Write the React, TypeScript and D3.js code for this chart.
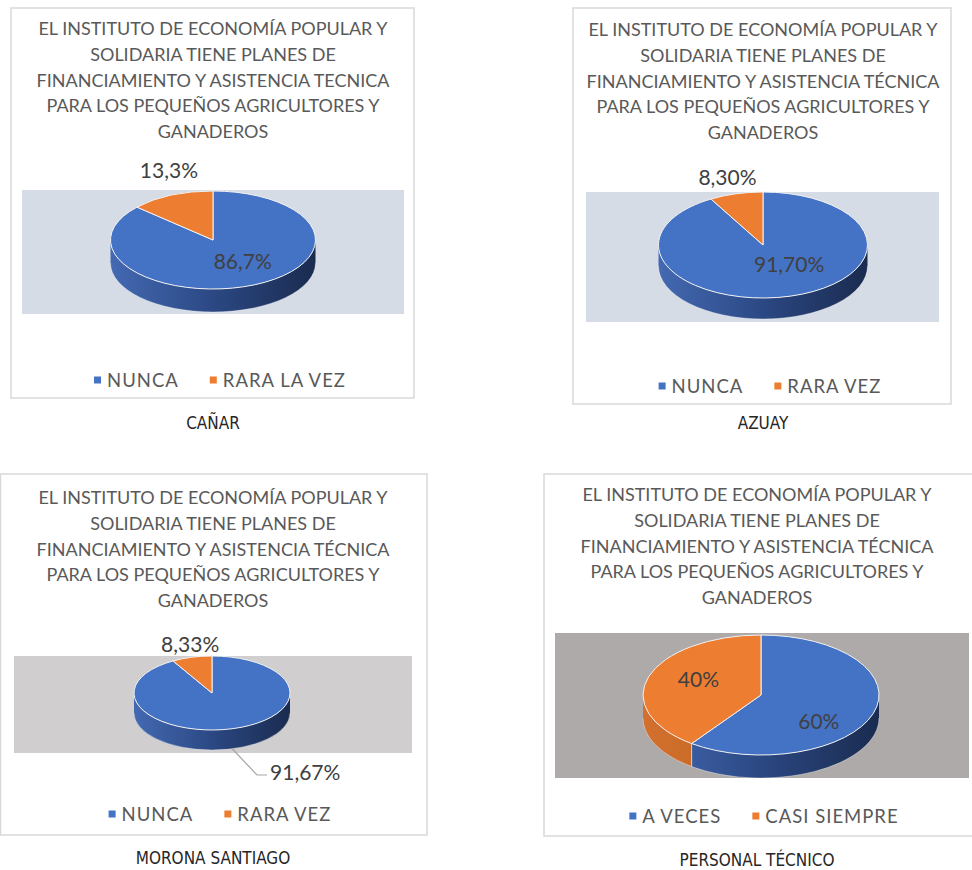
import { useEffect, useRef } from 'react';
import * as d3 from 'd3';

// Chart data
const titleLinesA = [
  'EL INSTITUTO DE ECONOMÍA POPULAR Y',
  'SOLIDARIA TIENE PLANES DE',
  'FINANCIAMIENTO Y ASISTENCIA TECNICA',
  'PARA LOS PEQUEÑOS AGRICULTORES Y',
  'GANADEROS',
];
const titleLinesB = [
  'EL INSTITUTO DE ECONOMÍA POPULAR Y',
  'SOLIDARIA TIENE PLANES DE',
  'FINANCIAMIENTO Y ASISTENCIA TÉCNICA',
  'PARA LOS PEQUEÑOS AGRICULTORES Y',
  'GANADEROS',
];
const captions = ['CAÑAR', 'AZUAY', 'MORONA SANTIAGO', 'PERSONAL TÉCNICO'];

const canarCategories = ['NUNCA', 'RARA LA VEZ'];
const canarValues = [86.7, 13.3];
const canarLabels = ['86,7%', '13,3%'];

const azuayCategories = ['NUNCA', 'RARA VEZ'];
const azuayValues = [91.7, 8.3];
const azuayLabels = ['91,70%', '8,30%'];

const moronaCategories = ['NUNCA', 'RARA VEZ'];
const moronaValues = [91.67, 8.33];
const moronaLabels = ['91,67%', '8,33%'];

const personalCategories = ['A VECES', 'CASI SIEMPRE'];
const personalValues = [60, 40];
const personalLabels = ['60%', '40%'];

const TOP_COLORS = ['#4472c4', '#ed7d31'];
const SIDE_STOPS = [
  ['#4469b2', '#2b4883', '#1a2b4f'],
  ['#d2712f', '#c3641f', '#b05a1c'],
];

interface LabelPos { ux: number; uy: number; anchor?: string; leader?: boolean }
interface Panel {
  categories: string[];
  values: number[];
  labels: string[];
  title: string[];
  caption: string;
  box: [number, number, number, number];
  titleX: number;
  titleY: number;
  plot: [number, number, number, number];
  plotFill: string;
  pie: { cx: number; cy: number; rx: number; ry: number; depth: number };
  labelPos: LabelPos[];
  legendY: number;
  captionY: number;
}

const panels: Panel[] = [
  {
    categories: canarCategories, values: canarValues, labels: canarLabels,
    title: titleLinesA, caption: captions[0],
    box: [11, 8, 403, 390], titleX: 213, titleY: 28,
    plot: [22, 190, 382, 124], plotFill: '#d6dce5',
    pie: { cx: 213, cy: 240, rx: 102.5, ry: 49, depth: 23 },
    labelPos: [{ ux: 0.29, uy: 0.41 }, { ux: -0.43, uy: -1.43 }],
    legendY: 380, captionY: 423,
  },
  {
    categories: azuayCategories, values: azuayValues, labels: azuayLabels,
    title: titleLinesB, caption: captions[1],
    box: [573, 8, 378, 396], titleX: 763, titleY: 29,
    plot: [586, 192, 353, 130], plotFill: '#d6dce5',
    pie: { cx: 763, cy: 245, rx: 104.5, ry: 53, depth: 21 },
    labelPos: [{ ux: 0.25, uy: 0.34 }, { ux: -0.34, uy: -1.3 }],
    legendY: 386, captionY: 423,
  },
  {
    categories: moronaCategories, values: moronaValues, labels: moronaLabels,
    title: titleLinesB, caption: captions[2],
    box: [0.5, 474, 426.5, 361], titleX: 213, titleY: 497,
    plot: [14, 656, 398, 97], plotFill: '#d0cece',
    pie: { cx: 212, cy: 693, rx: 78, ry: 37, depth: 20 },
    labelPos: [{ ux: 0.744, uy: 2.135, anchor: 'start', leader: true }, { ux: -0.28, uy: -1.35 }],
    legendY: 814, captionY: 858,
  },
  {
    categories: personalCategories, values: personalValues, labels: personalLabels,
    title: titleLinesB, caption: captions[3],
    box: [544, 474, 440, 362], titleX: 757, titleY: 494,
    plot: [555, 633, 414, 145], plotFill: '#aeaaaa',
    pie: { cx: 761, cy: 695, rx: 118, ry: 60, depth: 23 },
    labelPos: [{ ux: 0.49, uy: 0.42 }, { ux: -0.53, uy: -0.28 }],
    legendY: 816, captionY: 860,
  },
];

const FONT = 'Lato, "Open Sans", sans-serif';
const NARROW = '"Liberation Sans Narrow", "DejaVu Sans Condensed", sans-serif';

export default function App() {
  const svgRef = useRef<SVGSVGElement>(null);

  useEffect(() => {
    const svg = d3.select(svgRef.current);
    svg.selectAll('*').remove();
    const defs = svg.append('defs');

    panels.forEach((p, pi) => {
      const g = svg.append('g');
      const { cx, cy, rx, ry, depth } = p.pie;

      // chart border
      g.append('rect')
        .attr('x', p.box[0]).attr('y', p.box[1])
        .attr('width', p.box[2]).attr('height', p.box[3])
        .attr('fill', '#fff').attr('stroke', '#d9d9d9').attr('stroke-width', 1.5);

      // title
      g.append('text')
        .attr('text-anchor', 'middle')
        .attr('font-family', FONT).attr('font-size', 18).attr('fill', '#595959')
        .selectAll('tspan').data(p.title).enter().append('tspan')
        .attr('x', p.titleX).attr('y', (_, i) => p.titleY + i * 25.8)
        .attr('dominant-baseline', 'central')
        .text((d) => d);

      // plot area
      g.append('rect')
        .attr('x', p.plot[0]).attr('y', p.plot[1])
        .attr('width', p.plot[2]).attr('height', p.plot[3])
        .attr('fill', p.plotFill);

      const pie = d3.pie<number>().sort(null).value((d) => d);
      const arcs = pie(p.values);
      const pt = (a: number, dy = 0): [number, number] => [cx + rx * Math.sin(a), cy - ry * Math.cos(a) + dy];

      // side gradients
      SIDE_STOPS.forEach((stops, si) => {
        const lg = defs.append('linearGradient')
          .attr('id', `side-${pi}-${si}`)
          .attr('gradientUnits', 'userSpaceOnUse')
          .attr('x1', cx - rx).attr('x2', cx + rx).attr('y1', 0).attr('y2', 0);
        stops.forEach((c, k) => lg.append('stop').attr('offset', k / (stops.length - 1)).attr('stop-color', c));
      });

      // side walls (front half only)
      arcs.forEach((a, i) => {
        const a0 = Math.max(a.startAngle, Math.PI / 2);
        const a1 = Math.min(a.endAngle, Math.PI * 1.5);
        if (a1 <= a0) return;
        const [x0, y0] = pt(a0);
        const [x1, y1] = pt(a1);
        const d = `M${x0},${y0}A${rx},${ry} 0 0 1 ${x1},${y1}L${x1},${y1 + depth}A${rx},${ry} 0 0 0 ${x0},${y0 + depth}Z`;
        g.append('path').attr('d', d).attr('fill', `url(#side-${pi}-${i})`);
        if (a0 > Math.PI / 2 + 1e-6) {
          g.append('line').attr('x1', x0).attr('x2', x0).attr('y1', y0).attr('y2', y0 + depth)
            .attr('stroke', '#e8e8e8').attr('stroke-width', 0.8);
        }
      });

      // bottom rim glow
      {
        const [x0, y0] = pt(Math.PI / 2, depth);
        const [x1, y1] = pt(Math.PI * 1.5, depth);
        g.append('path')
          .attr('d', `M${x0},${y0}A${rx},${ry} 0 0 1 ${x1},${y1}`)
          .attr('fill', 'none').attr('stroke', '#ffffff').attr('stroke-opacity', 0.35).attr('stroke-width', 1);
      }

      // top faces
      const arc = d3.arc<d3.PieArcDatum<number>>().innerRadius(0).outerRadius(rx);
      g.append('g')
        .attr('transform', `translate(${cx},${cy}) scale(1,${ry / rx})`)
        .selectAll('path').data(arcs).enter().append('path')
        .attr('d', arc)
        .attr('fill', (_, i) => TOP_COLORS[i])
        .attr('stroke', '#f2f2f2').attr('stroke-width', 1)
        .attr('vector-effect', 'non-scaling-stroke');

      // data labels
      arcs.forEach((a, i) => {
        const lp = p.labelPos[i];
        const lx = cx + lp.ux * rx;
        const ly = cy + lp.uy * ry;
        if (lp.leader) {
          const mid = (a.startAngle + a.endAngle) / 2;
          const [sx, sy] = pt(mid, depth);
          g.append('polyline')
            .attr('points', `${sx},${sy} ${lx - 13},${ly + 3} ${lx - 3},${ly + 3}`)
            .attr('fill', 'none').attr('stroke', '#a6a6a6').attr('stroke-width', 1.2);
        }
        g.append('text')
          .attr('x', lx).attr('y', ly)
          .attr('text-anchor', lp.anchor || 'middle')
          .attr('dominant-baseline', 'central')
          .attr('font-family', FONT).attr('font-size', 21).attr('fill', '#404040')
          .text(p.labels[i]);
      });

      // legend, centred a little right of the title axis
      const lgG = g.append('g');
      let x = 0;
      p.categories.forEach((c, i) => {
        lgG.append('rect').attr('x', x).attr('y', p.legendY - 3.5).attr('width', 7).attr('height', 7).attr('fill', TOP_COLORS[i]);
        const t = lgG.append('text')
          .attr('x', x + 13).attr('y', p.legendY)
          .attr('dominant-baseline', 'central')
          .attr('font-family', FONT).attr('font-size', 18.5).attr('letter-spacing', 1)
          .attr('fill', '#595959')
          .text(c);
        const w = (t.node() as SVGTextElement).getComputedTextLength();
        x += 13 + w + (i < p.categories.length - 1 ? 31 : 0);
      });
      lgG.attr('transform', `translate(${p.titleX + 7 - x / 2},0)`);

      // caption under the chart
      g.append('text')
        .attr('x', p.titleX).attr('y', p.captionY)
        .attr('text-anchor', 'middle').attr('dominant-baseline', 'central')
        .attr('font-family', NARROW).attr('font-size', 17).attr('fill', '#262626')
        .text(p.caption);
    });
  }, []);

  return (
    <svg
      ref={svgRef}
      width={972}
      height={870}
      style={{ position: 'absolute', left: 0, top: 0, background: '#fff' }}
    />
  );
}
